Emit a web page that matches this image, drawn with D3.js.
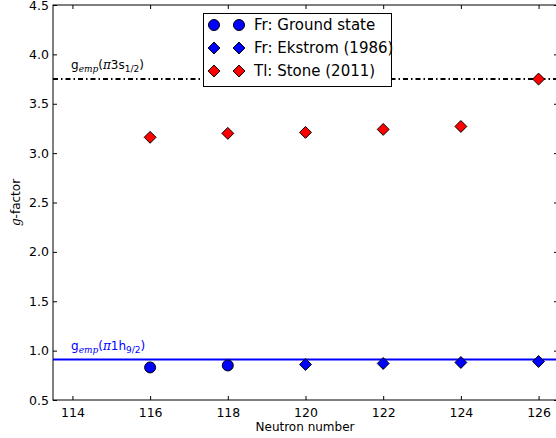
<!DOCTYPE html>
<html>
<head>
<meta charset="utf-8">
<script src="https://cdn.jsdelivr.net/npm/d3@7"></script>
<style>
body { margin: 0; background: #fff; }
svg text { font-family: "DejaVu Sans", sans-serif; }
</style>
</head>
<body>
<svg id="chart" width="556" height="438"></svg>
<script>
// data
var groundN = [116, 118];
var groundG = [0.83, 0.85];
var ekstromN = [120, 122, 124, 126];
var ekstromG = [0.86, 0.87, 0.88, 0.89];
var stoneN = [116, 118, 120, 122, 124, 126];
var stoneG = [3.16, 3.20, 3.21, 3.24, 3.27, 3.75];
var gEmpH = 0.91;
var gEmpS = 3.75;
var xTicks = [114, 116, 118, 120, 122, 124, 126];
var yTicks = [0.5, 1.0, 1.5, 2.0, 2.5, 3.0, 3.5, 4.0, 4.5];

var svg = d3.select("svg#chart");
var mLeft = 53, mRight = 558, mTop = 5, mBottom = 400;

var x = d3.scaleLinear().domain([113.5, 126.5]).range([mLeft, mRight]);
var y = d3.scaleLinear().domain([0.5, 4.5]).range([mBottom, mTop]);

// axes, ticks inward
svg.append("g").attr("transform", "translate(0," + mBottom + ")")
  .call(d3.axisBottom(x).tickValues(xTicks).tickSizeInner(-4).tickSizeOuter(0).tickPadding(8).tickFormat(d3.format("d")))
  .call(function(g) { g.select(".domain").remove(); });
svg.append("g").attr("transform", "translate(0," + mTop + ")")
  .call(d3.axisTop(x).tickValues(xTicks).tickSizeInner(-4).tickSizeOuter(0).tickFormat(""))
  .call(function(g) { g.select(".domain").remove(); });
svg.append("g").attr("transform", "translate(" + mLeft + ",0)")
  .call(d3.axisLeft(y).tickValues(yTicks).tickSizeInner(-4).tickSizeOuter(0).tickPadding(4).tickFormat(d3.format(".1f")))
  .call(function(g) { g.select(".domain").remove(); });
svg.append("g").attr("transform", "translate(" + mRight + ",0)")
  .call(d3.axisRight(y).tickValues(yTicks).tickSizeInner(-4).tickSizeOuter(0).tickFormat(""))
  .call(function(g) { g.select(".domain").remove(); });

svg.selectAll(".tick text").style("font-size", "12.5px").attr("fill", "#000");
svg.selectAll(".tick line").attr("stroke", "#000");

svg.append("rect")
  .attr("x", mLeft).attr("y", mTop)
  .attr("width", mRight - mLeft).attr("height", mBottom - mTop)
  .attr("fill", "none").attr("stroke", "#000").attr("stroke-width", 1);

// reference lines
svg.append("line")
  .attr("x1", mLeft).attr("x2", mRight)
  .attr("y1", y(gEmpH)).attr("y2", y(gEmpH))
  .attr("stroke", "#0000ff").attr("stroke-width", 2);
svg.append("line")
  .attr("x1", mLeft).attr("x2", mRight)
  .attr("y1", y(gEmpS)).attr("y2", y(gEmpS))
  .attr("stroke", "#000").attr("stroke-width", 2)
  .attr("stroke-dasharray", "5,3,1.5,3");

// reference labels
function empLabel(yv, color, orb, sub) {
  var t = svg.append("text").attr("x", 71).attr("y", y(yv) - 10)
    .attr("fill", color).style("font-size", "12px");
  t.append("tspan").text("g");
  t.append("tspan").attr("dy", 3).style("font-family", "'DejaVu Serif', serif")
    .style("font-style", "italic").style("font-size", "9px").text("emp");
  t.append("tspan").attr("dy", -3).text("(");
  t.append("tspan").style("font-family", "'DejaVu Serif', serif").style("font-style", "italic").text("π");
  t.append("tspan").text(orb);
  t.append("tspan").attr("dy", 3).style("font-size", "9px").text(sub);
  t.append("tspan").attr("dy", -3).text(")");
}
empLabel(gEmpS, "#000", "3s", "1/2");
empLabel(gEmpH, "#0000ff", "1h", "9/2");

var diamond = d3.symbol().type(d3.symbolDiamond2).size(90);

// points
svg.selectAll(".ground").data(groundN).enter().append("circle")
  .attr("cx", function(d) { return x(d); })
  .attr("cy", function(d, i) { return y(groundG[i]); })
  .attr("r", 5.5).attr("fill", "#0000ff").attr("stroke", "#000").attr("stroke-width", 1);

svg.selectAll(".ekstrom").data(ekstromN).enter().append("path")
  .attr("d", diamond)
  .attr("transform", function(d, i) { return "translate(" + x(d) + "," + y(ekstromG[i]) + ")"; })
  .attr("fill", "#0000ff").attr("stroke", "#000").attr("stroke-width", 1);

svg.selectAll(".stone").data(stoneN).enter().append("path")
  .attr("d", diamond)
  .attr("transform", function(d, i) { return "translate(" + x(d) + "," + y(stoneG[i]) + ")"; })
  .attr("fill", "#ff0000").attr("stroke", "#000").attr("stroke-width", 1);

// axis titles
svg.append("text").attr("x", 305).attr("y", 431).attr("text-anchor", "middle")
  .style("font-size", "12px").text("Neutron number");
var yl = svg.append("text").attr("transform", "translate(20," + ((mTop + mBottom) / 2) + ") rotate(-90)")
  .attr("text-anchor", "middle").style("font-size", "12px");
yl.append("tspan").style("font-family", "'DejaVu Serif', serif").style("font-style", "italic").text("g");
yl.append("tspan").text("-factor");

// legend
var legend = [
  { label: "Fr: Ground state", color: "#0000ff", shape: "circle" },
  { label: "Fr: Ekstrom (1986)", color: "#0000ff", shape: "diamond" },
  { label: "Tl: Stone (2011)", color: "#ff0000", shape: "diamond" }
];
var lg = svg.append("g");
lg.append("rect").attr("x", 203.5).attr("y", 13.5).attr("width", 188).attr("height", 73)
  .attr("fill", "#fff").attr("stroke", "#000").attr("stroke-width", 1);
legend.forEach(function(d, i) {
  var cy = 25 + i * 23;
  [214, 239].forEach(function(cx) {
    if (d.shape === "circle") {
      lg.append("circle").attr("cx", cx).attr("cy", cy).attr("r", 5.5)
        .attr("fill", d.color).attr("stroke", "#000");
    } else {
      lg.append("path").attr("d", diamond).attr("transform", "translate(" + cx + "," + cy + ")")
        .attr("fill", d.color).attr("stroke", "#000");
    }
  });
  lg.append("text").attr("x", 254).attr("y", cy + 5).style("font-size", "15px").text(d.label);
});
</script>
</body>
</html>
